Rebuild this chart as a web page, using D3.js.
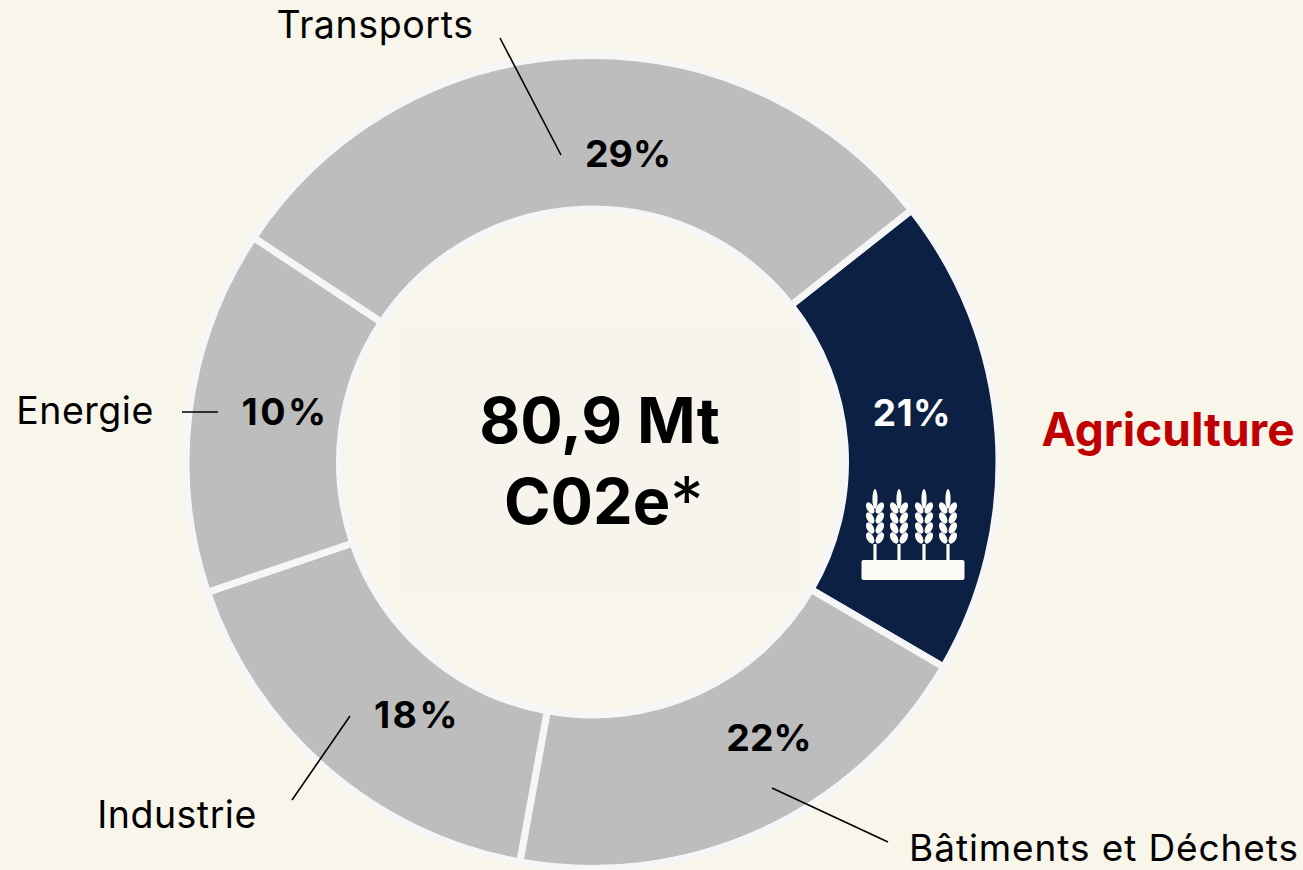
<!DOCTYPE html>
<html><head><meta charset="utf-8">
<script src="https://cdn.jsdelivr.net/npm/d3@7/dist/d3.min.js"></script>
<style>html,body{margin:0;padding:0;background:#f8f5ea;overflow:hidden}svg{display:block}text{font-family:"Inter","Noto Sans",sans-serif}</style>
</head><body><svg id="c" width="1303" height="870"><defs><filter id="soft" x="-5%" y="-5%" width="110%" height="110%"><feGaussianBlur stdDeviation="0.7"/></filter></defs></svg>
<script>
const categories=["Agriculture","Bâtiments et Déchets","Industrie","Energie","Transports"];
const labels=["21%","22%","18%","10%","29%"];
const drawnShares=[19.05,19.45,16.95,14.5,30.05];
const colors=["#0c2044","#bdbdbd","#bdbdbd","#bdbdbd","#bdbdbd"];
const startDeg=51.7, cx=592.5, cy=462, R=406.5, r=253;
const svg=d3.select("#c");
svg.append("rect").attr("x",398).attr("y",324).attr("width",404).attr("height",272).attr("fill","#f6f4ed");
const pie=d3.pie().sort(null).value(d=>d).startAngle(startDeg*Math.PI/180).endAngle((startDeg+360)*Math.PI/180);
const arc=d3.arc().innerRadius(r).outerRadius(R);
const g=svg.append("g").attr("transform",`translate(${cx},${cy})`);
g.selectAll("path").data(pie(drawnShares)).join("path").attr("d",arc).attr("fill",(d,i)=>colors[i]).attr("stroke","#f5f6f5").attr("stroke-width",7).attr("stroke-linejoin","miter");
function t(s,x,y,size,w,fill,anchor,ls){return svg.append("text").text(s).attr("x",x).attr("y",y).attr("font-size",size).attr("font-weight",w).attr("fill",fill||"#000").attr("text-anchor",anchor||"middle").attr("letter-spacing",ls||0);}
const labelPos=[[912,426,"#fff",37,0.5],[769,751,"#000",37.5,0],[417,728,"#000",37.5,2.5],[285,425,"#000",37.5,2.5],[628,167,"#000",37.5,0]];
labels.forEach((l,i)=>t(l,labelPos[i][0],labelPos[i][1],labelPos[i][3],700,labelPos[i][2],"middle",labelPos[i][4]));
t("80,9 Mt",599.5,443,63,700);
const c2=t("C02e",504,524,63,700,"#000","start");
c2.append("tspan").text("*").attr("font-weight",400).attr("font-size",66);
t("Agriculture",1168,446,46,700,"#c00000");
t("Bâtiments et Déchets",1104,861,37,400,"#000","middle",0.9);
t("Industrie",177,828,37.5,400,"#000","middle",0.5);
t("Energie",85,424,37.5,400,"#000","middle",0.5);
t("Transports",375,38,37.5,400,"#000","middle",0.6);
const leaders=[[500,38,561,155],[772,788,888,842],[350,716,292,800],[182,412,218,412]];
svg.selectAll("line.l").data(leaders).join("line").attr("class","l").attr("x1",d=>d[0]).attr("y1",d=>d[1]).attr("x2",d=>d[2]).attr("y2",d=>d[3]).attr("stroke","#000").attr("stroke-width",1.6);
// wheat icon
const ic=svg.append("g").attr("fill","#fbfaf5").attr("stroke","none").attr("filter","url(#soft)");
ic.append("rect").attr("x",861.5).attr("y",560).attr("width",103).attr("height",20).attr("rx",2);
[875,899,924,948].forEach(x=>{
 ic.append("rect").attr("x",x-1.6).attr("y",544).attr("width",3.2).attr("height",17);
 ic.append("ellipse").attr("cx",x).attr("cy",499).attr("rx",2.6).attr("ry",10);
 [508,518,528,538].forEach(y=>{
  [-1,1].forEach(s=>ic.append("ellipse").attr("cx",x+s*4.8).attr("cy",y).attr("rx",3.4).attr("ry",6.2).attr("transform",`rotate(${s*30} ${x+s*4.8} ${y})`));
 });
});
</script></body></html>
